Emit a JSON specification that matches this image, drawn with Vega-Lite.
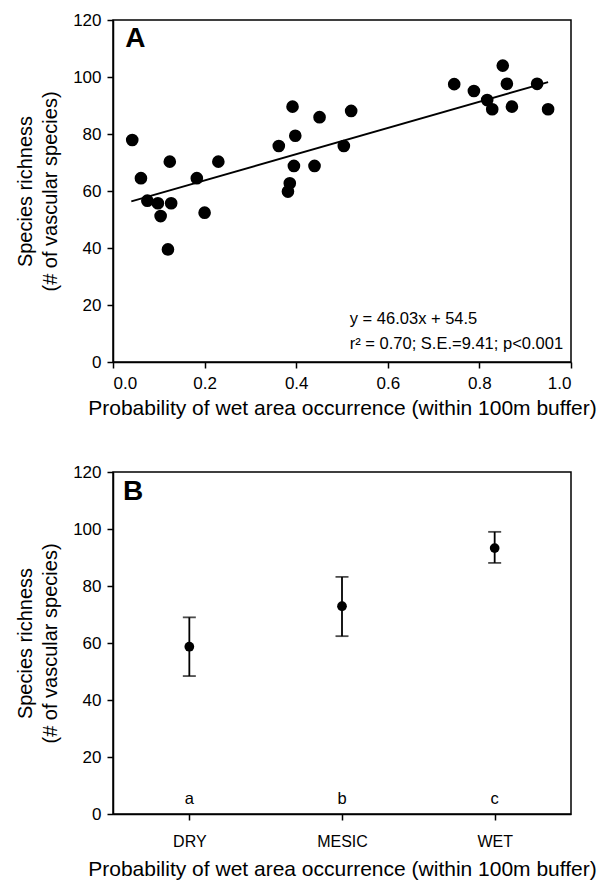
{
  "$schema": "https://vega.github.io/schema/vega-lite/v6.json",
  "padding": {"left": 14, "top": 10, "right": 4, "bottom": 0},
  "spacing": 43,
  "config": {
    "font": "Liberation Sans",
    "view": {"stroke": "black", "strokeWidth": 1.5},
    "axis": {
      "grid": false,
      "domainColor": "black",
      "domainWidth": 1.5,
      "tickColor": "black",
      "tickWidth": 1.5,
      "tickSize": 6,
      "labelColor": "black",
      "labelFontSize": 17,
      "labelFont": "Liberation Sans",
      "titleColor": "black",
      "titleFontSize": 20,
      "titleFontWeight": "normal",
      "titleFont": "Liberation Sans"
    }
  },
  "vconcat": [
    {
      "width": 458,
      "height": 342,
      "layer": [
        {
          "data": {"values": [
            {"p": 0.042, "r": 77.9}, {"p": 0.124, "r": 70.3}, {"p": 0.230, "r": 70.3},
            {"p": 0.061, "r": 64.5}, {"p": 0.183, "r": 64.5}, {"p": 0.075, "r": 56.6},
            {"p": 0.098, "r": 55.7}, {"p": 0.127, "r": 55.7}, {"p": 0.104, "r": 51.2},
            {"p": 0.200, "r": 52.4}, {"p": 0.120, "r": 39.5}, {"p": 0.392, "r": 89.6},
            {"p": 0.451, "r": 85.9}, {"p": 0.520, "r": 88.1}, {"p": 0.398, "r": 79.4},
            {"p": 0.362, "r": 75.8}, {"p": 0.504, "r": 75.8}, {"p": 0.395, "r": 68.8},
            {"p": 0.440, "r": 68.8}, {"p": 0.386, "r": 62.7}, {"p": 0.382, "r": 59.8},
            {"p": 0.745, "r": 97.5}, {"p": 0.788, "r": 95.1}, {"p": 0.817, "r": 91.9},
            {"p": 0.828, "r": 88.7}, {"p": 0.851, "r": 104.0}, {"p": 0.860, "r": 97.6},
            {"p": 0.871, "r": 89.6}, {"p": 0.926, "r": 97.6}, {"p": 0.950, "r": 88.7}
          ]},
          "mark": {"type": "point", "filled": true, "size": 160, "color": "black", "opacity": 1},
          "encoding": {
            "x": {
              "field": "p", "type": "quantitative",
              "scale": {"domain": [0, 1], "nice": false},
              "axis": {
                "values": [0, 0.2, 0.4, 0.6, 0.8, 1.0], "format": ".1f",
                "title": "Probability of wet area occurrence (within 100m buffer)",
                "titleFontSize": 21,
                "labelPadding": 7, "titlePadding": 6
              }
            },
            "y": {
              "field": "r", "type": "quantitative",
              "scale": {"domain": [0, 120], "nice": false},
              "axis": {
                "values": [0, 20, 40, 60, 80, 100, 120],
                "title": ["Species richness", "(# of vascular species)"],
                "titleLineHeight": 25, "titlePadding": 12, "labelPadding": 6
              }
            }
          }
        },
        {
          "data": {"values": [{"p": 0.04, "r": 56.34}, {"p": 0.95, "r": 98.23}]},
          "mark": {"type": "line", "color": "black", "strokeWidth": 1.8},
          "encoding": {
            "x": {"field": "p", "type": "quantitative"},
            "y": {"field": "r", "type": "quantitative"}
          }
        },
        {
          "data": {"values": [{"p": 0.049, "r": 113.4, "t": "A"}]},
          "mark": {"type": "text", "fontSize": 28, "fontWeight": "bold", "color": "black", "baseline": "middle"},
          "encoding": {
            "x": {"field": "p", "type": "quantitative"},
            "y": {"field": "r", "type": "quantitative"},
            "text": {"field": "t"}
          }
        },
        {
          "data": {"values": [
            {"p": 0.517, "r": 15.1, "t": "y = 46.03x + 54.5"},
            {"p": 0.517, "r": 6.3, "t": "r² = 0.70; S.E.=9.41; p<0.001"}
          ]},
          "mark": {"type": "text", "fontSize": 16.5, "align": "left", "baseline": "middle", "color": "black"},
          "encoding": {
            "x": {"field": "p", "type": "quantitative"},
            "y": {"field": "r", "type": "quantitative"},
            "text": {"field": "t"}
          }
        }
      ]
    },
    {
      "width": 458,
      "height": 342,
      "resolve": {"scale": {"x": "independent"}},
      "layer": [
        {
          "data": {"values": [
            {"cat": "DRY", "mean": 58.7, "lo": 48.4, "hi": 69.0, "letter": "a"},
            {"cat": "MESIC", "mean": 72.9, "lo": 62.4, "hi": 83.2, "letter": "b"},
            {"cat": "WET", "mean": 93.3, "lo": 88.1, "hi": 99.0, "letter": "c"}
          ]},
          "encoding": {
            "x": {
              "field": "cat", "type": "nominal",
              "scale": {"type": "point", "padding": 0.5, "domain": ["DRY", "MESIC", "WET"]},
              "axis": {
                "labelAngle": 0, "labelFontSize": 16, "labelPadding": 13, "titlePadding": 9,
                "titleFontSize": 21,
                "title": "Probability of wet area occurrence (within 100m buffer)"
              }
            }
          },
          "layer": [
            {
              "mark": {"type": "rule", "color": "black", "strokeWidth": 1.8},
              "encoding": {
                "y": {
                  "field": "lo", "type": "quantitative",
                  "scale": {"domain": [0, 120], "nice": false},
                  "axis": {
                    "values": [0, 20, 40, 60, 80, 100, 120],
                    "title": ["Species richness", "(# of vascular species)"],
                    "titleLineHeight": 25, "titlePadding": 12, "labelPadding": 6
                  }
                },
                "y2": {"field": "hi"}
              }
            },
            {
              "mark": {"type": "tick", "orient": "horizontal", "color": "black", "size": 13, "thickness": 1.8},
              "encoding": {"y": {"field": "hi", "type": "quantitative"}}
            },
            {
              "mark": {"type": "tick", "orient": "horizontal", "color": "black", "size": 13, "thickness": 1.8},
              "encoding": {"y": {"field": "lo", "type": "quantitative"}}
            },
            {
              "mark": {"type": "point", "filled": true, "size": 95, "color": "black", "opacity": 1},
              "encoding": {"y": {"field": "mean", "type": "quantitative"}}
            },
            {
              "mark": {"type": "text", "fontSize": 16.5, "baseline": "middle", "color": "black"},
              "encoding": {
                "y": {"datum": 5.2, "type": "quantitative"},
                "text": {"field": "letter"}
              }
            }
          ]
        },
        {
          "data": {"values": [{"p": 0.044, "r": 113.0, "t": "B"}]},
          "mark": {"type": "text", "fontSize": 28, "fontWeight": "bold", "color": "black", "baseline": "middle"},
          "encoding": {
            "x": {"field": "p", "type": "quantitative", "scale": {"domain": [0, 1]}, "axis": null},
            "y": {"field": "r", "type": "quantitative"},
            "text": {"field": "t"}
          }
        }
      ]
    }
  ]
}
